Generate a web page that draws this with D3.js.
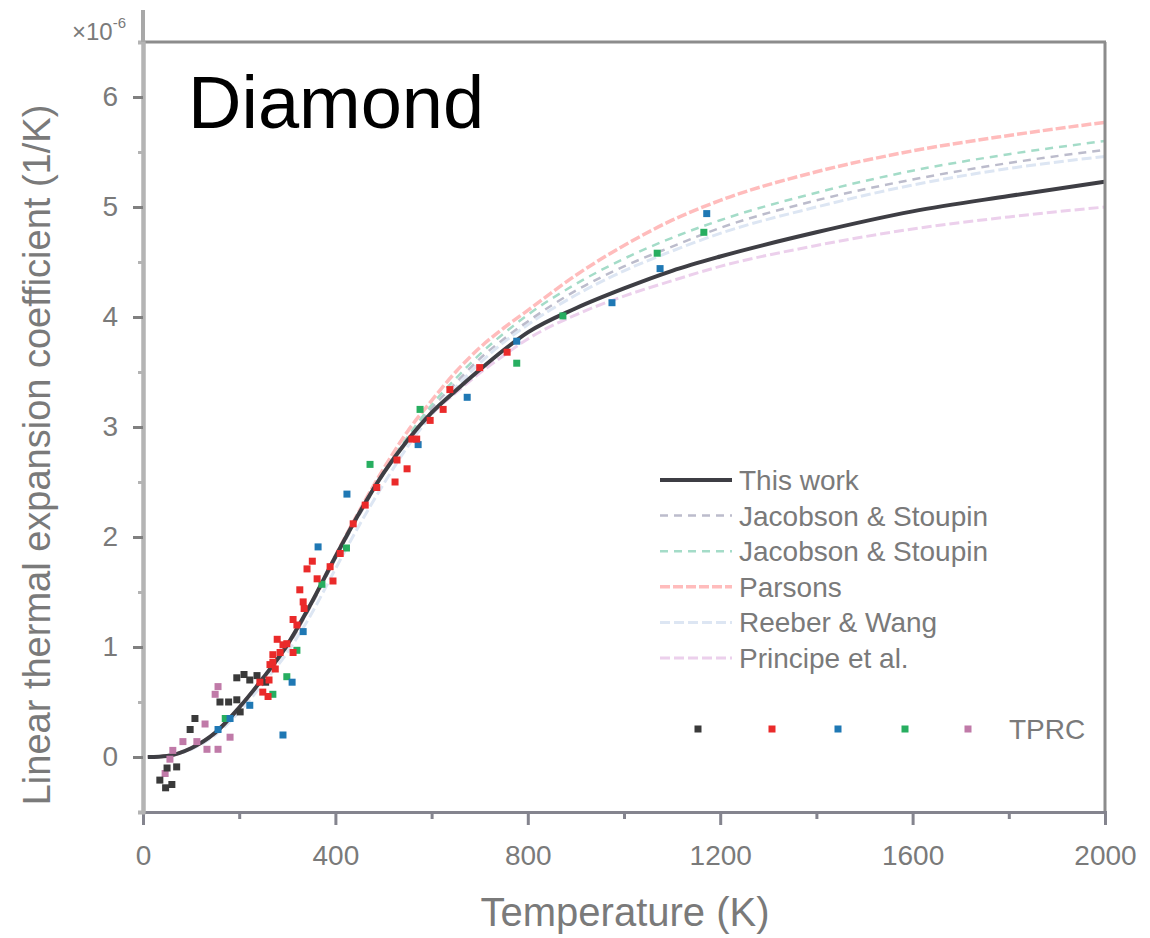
<!DOCTYPE html>
<html><head><meta charset="utf-8">
<script src="https://cdn.jsdelivr.net/npm/d3@7"></script>
<style>
body{margin:0;background:#fff;}
text{font-family:"Liberation Sans",Arial,sans-serif;}
</style></head>
<body><svg id="c" width="1150" height="938"></svg>
<script>
// ---- data ----
const temps      = [10, 50, 100, 150, 200, 250, 300, 350, 400, 450, 500, 550, 600, 650, 700, 750, 800, 900, 1000, 1100, 1200, 1400, 1600, 1800, 2000];
const thisWork   = [0.0, 0.01, 0.08, 0.22, 0.45, 0.72, 1.02, 1.40, 1.82, 2.22, 2.58, 2.88, 3.13, 3.33, 3.52, 3.70, 3.86, 4.08, 4.26, 4.42, 4.55, 4.77, 4.96, 5.10, 5.23];
const jacobson1  = [0.0, 0.01, 0.08, 0.22, 0.44, 0.71, 1.00, 1.38, 1.80, 2.20, 2.57, 2.89, 3.17, 3.40, 3.62, 3.80, 3.96, 4.24, 4.46, 4.64, 4.81, 5.06, 5.25, 5.40, 5.52];
const jacobson2  = [0.0, 0.01, 0.08, 0.22, 0.45, 0.72, 1.02, 1.40, 1.82, 2.22, 2.59, 2.91, 3.20, 3.44, 3.66, 3.85, 4.02, 4.30, 4.53, 4.72, 4.88, 5.13, 5.33, 5.48, 5.60];
const parsons    = [0.0, 0.01, 0.08, 0.22, 0.45, 0.72, 1.02, 1.40, 1.83, 2.24, 2.62, 2.96, 3.24, 3.50, 3.72, 3.90, 4.06, 4.38, 4.65, 4.88, 5.06, 5.32, 5.51, 5.65, 5.77];
const reeberWang = [0.0, 0.01, 0.07, 0.20, 0.41, 0.67, 0.95, 1.30, 1.71, 2.11, 2.48, 2.82, 3.11, 3.36, 3.58, 3.77, 3.93, 4.20, 4.42, 4.60, 4.76, 5.00, 5.20, 5.35, 5.46];
const principe   = [0.0, 0.01, 0.08, 0.22, 0.45, 0.72, 1.02, 1.40, 1.82, 2.22, 2.58, 2.88, 3.12, 3.31, 3.49, 3.65, 3.80, 4.02, 4.19, 4.33, 4.46, 4.65, 4.80, 4.91, 5.00];

const tprcBlack = [[35,-0.21],[60,-0.25],[47,-0.28],[70,-0.09],[50,-0.10],[98,0.25],[108,0.35],[160,0.50],[178,0.50],[195,0.52],[202,0.41],[195,0.72],[210,0.75],[222,0.70],[237,0.74],[255,0.68]];
const tprcRed = [[243,0.68],[249,0.59],[260,0.55],[262,0.70],[264,0.84],[270,0.93],[270,0.86],[275,0.80],[279,1.07],[285,0.95],[291,1.02],[299,1.03],[312,0.95],[312,1.25],[320,1.20],[335,1.35],[326,1.52],[333,1.41],[341,1.71],[352,1.78],[362,1.62],[389,1.73],[395,1.60],[410,1.85],[437,2.12],[462,2.29],[486,2.45],[524,2.50],[528,2.70],[549,2.62],[559,2.89],[569,2.89],[597,3.06],[624,3.16],[638,3.34],[700,3.54],[757,3.68]];
const tprcBlue = [[156,0.25],[181,0.35],[222,0.47],[291,0.20],[310,0.68],[333,1.14],[364,1.91],[424,2.39],[572,2.84],[674,3.27],[777,3.78],[975,4.13],[1075,4.44],[1172,4.94]];
const tprcGreen = [[171,0.35],[270,0.57],[299,0.73],[320,0.97],[372,1.57],[423,1.90],[472,2.66],[576,3.16],[777,3.58],[873,4.01],[1069,4.58],[1166,4.77]];
const tprcMauve = [[46,-0.15],[56,-0.02],[62,0.06],[83,0.14],[112,0.14],[129,0.30],[133,0.07],[150,0.57],[156,0.64],[156,0.07],[181,0.18]];

const xTicks = [0, 400, 800, 1200, 1600, 2000];
const xMinor = [200, 600, 1000, 1400, 1800];
const yTicks = [0, 1, 2, 3, 4, 5, 6];
const yMinor = [-0.5, 0.5, 1.5, 2.5, 3.5, 4.5, 5.5];
const legendNames = ["This work", "Jacobson & Stoupin", "Jacobson & Stoupin", "Parsons", "Reeber & Wang", "Principe et al."];

// ---- drawing ----
const svg = d3.select("#c");
const x = d3.scaleLinear().domain([0, 2000]).range([143, 1105]);
const y = d3.scaleLinear().domain([-0.5, 6.5]).range([812, 42]);

const curves = [
  {vals: reeberWang, color: "#dde6f3", w: 3, dash: "10,4"},
  {vals: principe,   color: "#ecd0ec", w: 3, dash: "10,4"},
  {vals: jacobson1,  color: "#bcbccc", w: 2.5, dash: "8,6"},
  {vals: jacobson2,  color: "#a4dcc8", w: 2.5, dash: "8,6"},
  {vals: parsons,    color: "#ffbcbc", w: 3.5, dash: "10,3"},
  {vals: thisWork,   color: "#3e3e44", w: 4, dash: null}
];
const legendStyles = [curves[5], curves[2], curves[3], curves[4], curves[0], curves[1]];

svg.append("defs").append("clipPath").attr("id","clip")
  .append("rect").attr("x",143).attr("y",42).attr("width",962).attr("height",770);

const line = d3.line().x((d,i)=>x(temps[i])).y(d=>y(d)).curve(d3.curveMonotoneX);
const plot = svg.append("g").attr("clip-path","url(#clip)");
curves.forEach(c=>{
  plot.append("path").attr("d", line(c.vals)).attr("fill","none")
    .attr("stroke", c.color).attr("stroke-width", c.w)
    .attr("stroke-dasharray", c.dash);
});

const sets = [
  {pts: tprcMauve, color: "#c07aa8"},
  {pts: tprcBlack, color: "#3a3a3a"},
  {pts: tprcGreen, color: "#27ae60"},
  {pts: tprcBlue,  color: "#1f78b4"},
  {pts: tprcRed,   color: "#ea2a2a"}
];
const ms = 7;
sets.forEach(s=>{
  plot.selectAll(null).data(s.pts).enter().append("rect")
    .attr("x", d=>x(d[0])-ms/2).attr("y", d=>y(d[1])-ms/2)
    .attr("width", ms).attr("height", ms).attr("fill", s.color);
});

// frame (top & right)
svg.append("line").attr("x1",143).attr("x2",1106).attr("y1",42).attr("y2",42)
  .attr("stroke","#8c8c8c").attr("stroke-width",3);
svg.append("line").attr("x1",1105).attr("x2",1105).attr("y1",42).attr("y2",812)
  .attr("stroke","#8c8c8c").attr("stroke-width",3);

// axes
function styleAxis(g, col, w){
  g.select(".domain").attr("stroke", col).attr("stroke-width", w);
  g.selectAll(".tick line").attr("stroke", col).attr("stroke-width", 3);
  g.selectAll(".tick text").attr("fill","#7a7a7a").attr("font-size",28)
    .attr("font-family",'"Liberation Sans",Arial,sans-serif');
}
const fmt = d3.format("d");
const gxm = svg.append("g").attr("transform","translate(0,812)")
  .call(d3.axisBottom(x).tickValues(xMinor).tickSize(7).tickFormat(""));
styleAxis(gxm, "#84848e", 3);
const gx = svg.append("g").attr("transform","translate(0,812)")
  .call(d3.axisBottom(x).tickValues(xTicks).tickFormat(fmt).tickSize(13).tickPadding(20).tickSizeOuter(0));
styleAxis(gx, "#84848e", 3);

const gym = svg.append("g").attr("transform","translate(143,0)")
  .call(d3.axisLeft(y).tickValues(yMinor).tickSize(5).tickFormat(""));
styleAxis(gym, "#b4b4b4", 4);
const gy = svg.append("g").attr("transform","translate(143,0)")
  .call(d3.axisLeft(y).tickValues(yTicks).tickFormat(fmt).tickSize(10).tickPadding(15).tickSizeOuter(0));
styleAxis(gy, "#b4b4b4", 4);
gy.selectAll(".tick line").attr("stroke","#808080");
// axis extension above top
svg.append("line").attr("x1",143).attr("x2",143).attr("y1",10).attr("y2",42)
  .attr("stroke","#a8a8a8").attr("stroke-width",4);

// exponent label
const ex = svg.append("text").attr("x",72).attr("y",40).attr("fill","#7a7a7a").attr("font-size",24);
ex.append("tspan").text("×10");
ex.append("tspan").attr("dy",-12).attr("font-size",15).text("-6");

// axis titles
svg.append("text").attr("x",625).attr("y",926).attr("text-anchor","middle")
  .attr("font-size",40).attr("fill","#7a7a7a").text("Temperature (K)");
svg.append("text").attr("transform","translate(50,455) rotate(-90)").attr("text-anchor","middle")
  .attr("font-size",38).attr("fill","#7a7a7a").text("Linear thermal expansion coefficient (1/K)");

// title
svg.append("text").attr("x",188).attr("y",128).attr("font-size",74).attr("fill","#000").text("Diamond");

// legend
const ly0 = 480, ldy = 35.6;
legendNames.forEach((n,i)=>{
  const s = legendStyles[i];
  const yy = ly0 + i*ldy;
  svg.append("line").attr("x1",660).attr("x2",732).attr("y1",yy).attr("y2",yy)
    .attr("stroke", s.color).attr("stroke-width", s.w).attr("stroke-dasharray", s.dash);
  svg.append("text").attr("x",739).attr("y",yy+10).attr("font-size",28).attr("fill","#7a7a7a").text(n);
});
const markerX = [698, 772, 838, 905, 968];
const markerCols = ["#3a3a3a", "#ea2a2a", "#1f78b4", "#27ae60", "#c07aa8"];
markerX.forEach((mx,i)=>{
  svg.append("rect").attr("x",mx-ms/2).attr("y",729-ms/2).attr("width",ms).attr("height",ms).attr("fill",markerCols[i]);
});
svg.append("text").attr("x",1009).attr("y",739).attr("font-size",28).attr("fill","#7a7a7a").text("TPRC");
</script></body></html>
